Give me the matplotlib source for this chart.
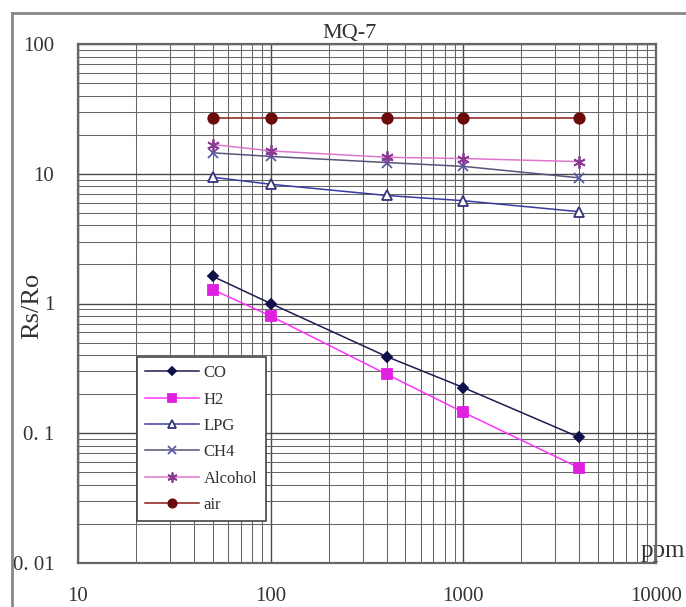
import numpy as np
import matplotlib
matplotlib.use("Agg")
import matplotlib.pyplot as plt
from matplotlib.ticker import LogLocator, NullFormatter, FixedLocator, FixedFormatter
from matplotlib.lines import Line2D

# values
ppm = [50, 100, 400, 1000, 4000]
co = [1.62, 1.0, 0.39, 0.225, 0.093]
h2 = [1.28, 0.80, 0.285, 0.145, 0.054]
lpg = [9.4, 8.3, 6.8, 6.2, 5.1]
ch4 = [14.5, 13.6, 12.2, 11.4, 9.3]
alcohol = [16.8, 15.0, 13.4, 13.1, 12.4]
air = [27, 27, 27, 27, 27]

xticks = [10, 100, 1000, 10000]
xticklabels = ["10", "100", "1000", "10000"]
yticks = [0.01, 0.1, 1, 10, 100]
yticklabels = ["0. 01", "0. 1", "1", "10", "100"]

plt.rcParams['font.family'] = ['Liberation Serif', 'DejaVu Serif']

W, H = 686, 607
fig = plt.figure(figsize=(W / 100, H / 100), dpi=100)
ax = fig.add_axes([78 / W, 1 - 563 / H, (656 - 78) / W, (563 - 44) / H])

ax.set_xscale('log')
ax.set_yscale('log')
ax.set_xlim(10, 10000)
ax.set_ylim(0.01, 100)

# series: (values, label, line colour, marker, marker size, face, edge)
series = [
    (co, 'CO', '#1c1c50', 'D', 5.5, '#10104a', '#10104a'),
    (h2, 'H2', '#ff33ff', 's', 7, '#e020e0', '#e020e0'),
    (lpg, 'LPG', '#3a3aa0', '^', 7, 'white', '#33337a'),
    (ch4, 'CH4', '#55557a', 'x', 7, '#5a5aa8', '#5a5aa8'),
    (alcohol, 'Alcohol', '#dd77cc', (6, 2, 0), 9, '#8a3a90', '#8a3a90'),
    (air, 'air', '#8a1a1a', 'o', 7.5, '#6a0a0a', '#6a0a0a'),
]
for vals, lab, lc, mk, ms, fc, ec in series:
    ax.plot(ppm, vals, color=lc, lw=1.1, marker=mk, markersize=ms,
            markerfacecolor=fc, markeredgecolor=ec, markeredgewidth=1.3,
            label=lab, zorder=3)

# log paper grid
ax.xaxis.set_major_locator(FixedLocator(xticks))
ax.xaxis.set_major_formatter(FixedFormatter(xticklabels))
ax.yaxis.set_major_locator(FixedLocator(yticks))
ax.yaxis.set_major_formatter(FixedFormatter(yticklabels))
ax.xaxis.set_minor_locator(LogLocator(base=10, subs=np.arange(2, 10)))
ax.yaxis.set_minor_locator(LogLocator(base=10, subs=np.arange(2, 10)))
ax.xaxis.set_minor_formatter(NullFormatter())
ax.yaxis.set_minor_formatter(NullFormatter())
ax.grid(True, which='major', color='#484848', lw=1.0, zorder=1)
ax.grid(True, which='minor', color='#666666', lw=0.75, zorder=1)

ax.tick_params(which='both', length=0)
ax.tick_params(axis='x', pad=17, labelsize=15, labelcolor='#333333')
ax.tick_params(axis='y', pad=17, labelsize=15, labelcolor='#333333')

for sp in ax.spines.values():
    sp.set_color('#666666')
    sp.set_linewidth(1.6)

ax.text(0.47, 1.002, 'MQ-7', transform=ax.transAxes, ha='center', va='bottom',
        fontsize=16, color='#333333')
ax.set_ylabel('Rs/Ro', fontsize=19, color='#333333')
ax.yaxis.set_label_coords(-0.06, 0.495)
ax.set_xlabel('ppm', fontsize=18, color='#333333', ha='left', va='baseline')
ax.xaxis.set_label_coords(0.973, 0.012)

leg = ax.legend(loc='upper left', bbox_to_anchor=(0.102, 0.397), borderaxespad=0,
                fontsize=12, handlelength=3.2, handletextpad=0.3, labelspacing=0.62,
                borderpad=0.5, frameon=True, fancybox=False, framealpha=1,
                edgecolor='#444444', markerscale=0.8)
leg.get_frame().set_linewidth(1.2)
for t in leg.get_texts():
    t.set_color('#333333')

# outer frame of the original picture
fig.add_artist(Line2D([12 / W, 12 / W], [0, 1 - 13 / H], color='#888888', lw=2))
fig.add_artist(Line2D([12 / W, 1], [1 - 13 / H, 1 - 13 / H], color='#888888', lw=2))

fig.savefig('out.png', dpi=100)
